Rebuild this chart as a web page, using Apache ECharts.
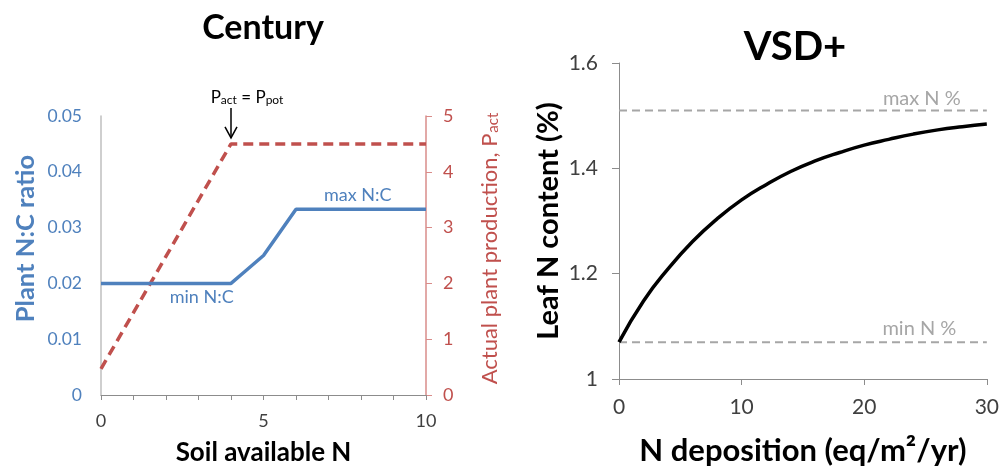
<!DOCTYPE html>
<html><head><meta charset="utf-8">
<script src="https://cdn.jsdelivr.net/npm/echarts@6/dist/echarts.min.js"></script>
<style>html,body{margin:0;padding:0;background:#fff}#c{width:1002px;height:471px}</style>
</head><body><div id="c"></div>
<script>
// ---- Century panel data ----
const soilN_nc = [0, 4, 4.4, 5, 6, 10];
const ncRatio = [0.02, 0.02, 0.022, 0.025, 0.0333, 0.0333];
const soilN_p = [0, 4, 10];
const pAct = [0.47, 4.5, 4.5];
const ncTicks = [0, 0.01, 0.02, 0.03, 0.04, 0.05];
const pTicks = [0, 1, 2, 3, 4, 5];
// ---- VSD+ panel data ----
const nDep = [0, 2, 4, 6, 8, 10, 12, 14, 16, 18, 20, 22, 24, 26, 28, 30];
const leafN = [1.07, 1.148, 1.209, 1.261, 1.304, 1.34, 1.369, 1.394, 1.414, 1.43, 1.444, 1.455, 1.465, 1.473, 1.479, 1.484];
const maxNpct = 1.51;
const minNpct = 1.07;
const nDepRange = [0, 30];

const FONT = 'Lato, "Open Sans", sans-serif';
const BLUE = '#4f81bd', RED = '#c0504d', GRAY = '#a6a6a6', TXT = '#404040';

const chart = echarts.init(document.getElementById('c'));
const option = {
  animation: false,
  textStyle: {fontFamily: FONT},
  title: [
    {text: 'Century', left: 258, top: 6, textAlign: 'center',
     textStyle: {fontFamily: FONT, fontSize: 34, fontWeight: 'bold', color: '#000'}},
    {text: 'VSD+', left: 790, top: 22, textAlign: 'center',
     textStyle: {fontFamily: FONT, fontSize: 40, fontWeight: 'bold', color: '#000'}}
  ],
  grid: [
    {left: 101, right: 576, top: 116, bottom: 73},
    {left: 619, right: 13, top: 63, bottom: 92}
  ],
  xAxis: [
    {type: 'value', gridIndex: 0, min: 0, max: 10, interval: 1,
     name: 'Soil available N', nameLocation: 'middle', nameGap: 45,
     nameTextStyle: {fontFamily: FONT, fontSize: 26, fontWeight: 'bold', color: '#000'},
     axisLine: {lineStyle: {color: '#8c8c8c', width: 1}},
     axisTick: {show: true, length: 5, lineStyle: {color: '#8c8c8c'}},
     axisLabel: {margin: 17, fontSize: 18, color: TXT, fontFamily: FONT,
       formatter: v => (v % 5 === 0 ? String(v) : '')},
     splitLine: {show: false}},
    {type: 'value', gridIndex: 1, min: nDepRange[0], max: nDepRange[1], interval: 10,
     name: 'N deposition (eq/m²/yr)', nameLocation: 'middle', nameGap: 56,
     nameTextStyle: {fontFamily: FONT, fontSize: 31, fontWeight: 'bold', color: '#000'},
     axisLine: {lineStyle: {color: '#8c8c8c', width: 1}},
     axisTick: {show: true, length: 6, lineStyle: {color: '#8c8c8c'}},
     axisLabel: {margin: 18, fontSize: 21, color: TXT, fontFamily: FONT},
     splitLine: {show: false}}
  ],
  yAxis: [
    {type: 'value', gridIndex: 0, min: 0, max: 0.05, interval: 0.01, position: 'left',
     name: 'Plant N:C ratio', nameLocation: 'middle', nameGap: 62, nameRotate: 90,
     nameTextStyle: {fontFamily: FONT, fontSize: 25.5, fontWeight: 'bold', color: BLUE, padding: [0, 0, 0, 34]},
     axisLine: {show: true, lineStyle: {color: '#bfbfbf', width: 1.5}},
     axisTick: {show: false},
     axisLabel: {margin: 19, fontSize: 17.5, color: BLUE, fontFamily: FONT,
       formatter: v => { const t = ncTicks.find(x => Math.abs(x - v) < 1e-9); return t === undefined ? '' : String(t); }},
     splitLine: {show: false}},
    {type: 'value', gridIndex: 0, min: 0, max: 5, interval: 1, position: 'right',
     name: '{a|Actual plant production, P}{s|act}', nameLocation: 'middle', nameGap: 47, nameRotate: 90,
     nameTextStyle: {fontFamily: FONT, color: RED, padding: [0, 0, 0, 14],
       rich: {a: {fontSize: 22, color: RED, fontFamily: FONT, lineHeight: 28, verticalAlign: 'bottom'},
              s: {fontSize: 15, color: RED, fontFamily: FONT, lineHeight: 28, verticalAlign: 'bottom', padding: [0,0,0,1]}}},
     axisLine: {show: true, lineStyle: {color: '#d98c8a', width: 1.5}},
     axisTick: {show: true, inside: false, length: 6, lineStyle: {color: '#d98c8a'}},
     axisLabel: {margin: 17, fontSize: 18, color: RED, fontFamily: FONT,
       formatter: v => String(pTicks.find(x => Math.abs(x - v) < 1e-9) ?? '')},
     splitLine: {show: false}},
    {type: 'value', gridIndex: 1, min: 1, max: 1.6, interval: 0.2,
     name: 'Leaf N content (%)', nameLocation: 'middle', nameGap: 56, nameRotate: 90,
     nameTextStyle: {fontFamily: FONT, fontSize: 29, fontWeight: 'bold', color: '#000'},
     axisLine: {show: true, lineStyle: {color: '#8c8c8c', width: 1}},
     axisTick: {show: true, length: 7, lineStyle: {color: '#8c8c8c'}},
     axisLabel: {margin: 21, fontSize: 21, color: TXT, fontFamily: FONT,
       formatter: v => String(Math.round(v * 10) / 10)},
     splitLine: {show: false}}
  ],
  series: [
    {type: 'line', name: 'Pact', xAxisIndex: 0, yAxisIndex: 1, symbol: 'none',
     data: soilN_p.map((x, i) => [x, pAct[i]]),
     lineStyle: {color: RED, width: 3.5, type: [10, 6]}, z: 2},
    {type: 'line', name: 'NC', xAxisIndex: 0, yAxisIndex: 0, symbol: 'none',
     data: soilN_nc.map((x, i) => [x, ncRatio[i]]),
     lineStyle: {color: BLUE, width: 3.5}, z: 3},
    {type: 'line', name: 'maxN', xAxisIndex: 1, yAxisIndex: 2, symbol: 'none',
     data: nDepRange.map(x => [x, maxNpct]),
     lineStyle: {color: GRAY, width: 2, type: [8, 5]}},
    {type: 'line', name: 'minN', xAxisIndex: 1, yAxisIndex: 2, symbol: 'none',
     data: nDepRange.map(x => [x, minNpct]),
     lineStyle: {color: GRAY, width: 2, type: [8, 5]}},
    {type: 'line', name: 'leafN', xAxisIndex: 1, yAxisIndex: 2, symbol: 'none', smooth: true,
     data: nDep.map((x, i) => [x, leafN[i]]),
     lineStyle: {color: '#000', width: 3.5}, z: 3}
  ]
};
chart.setOption(option);

// annotations positioned through the axes
const peak = chart.convertToPixel({xAxisIndex: 0, yAxisIndex: 1}, [soilN_p[1], pAct[1]]);
const minLab = chart.convertToPixel({xAxisIndex: 0, yAxisIndex: 0}, [3.1, ncRatio[0]]);
const maxLab = chart.convertToPixel({xAxisIndex: 0, yAxisIndex: 0}, [7.9, ncRatio[4]]);
const maxNLab = chart.convertToPixel({xAxisIndex: 1, yAxisIndex: 2}, [24.7, maxNpct]);
const minNLab = chart.convertToPixel({xAxisIndex: 1, yAxisIndex: 2}, [24.5, minNpct]);
const ax = peak[0], tipY = peak[1] - 6;
chart.setOption({graphic: [
  {type: 'line', shape: {x1: ax, y1: tipY - 30, x2: ax, y2: tipY}, style: {stroke: '#000', lineWidth: 1.5}},
  {type: 'polyline', shape: {points: [[ax - 6, tipY - 11], [ax, tipY], [ax + 6, tipY - 11]]}, style: {stroke: '#000', lineWidth: 1.5, fill: null}},
  {type: 'text', x: ax + 16, y: tipY - 32, style: {
    text: '{a|P}{s|act}{a| = P}{s|pot}', align: 'center', verticalAlign: 'bottom',
    rich: {a: {fontSize: 17, fill: '#000', fontFamily: FONT, lineHeight: 22, verticalAlign: 'bottom'},
           s: {fontSize: 12, fill: '#000', fontFamily: FONT, lineHeight: 18, verticalAlign: 'bottom'}}}},
  {type: 'text', x: minLab[0], y: minLab[1] + 5, style: {text: 'min N:C', fill: BLUE, fontSize: 18, fontFamily: FONT, align: 'center', verticalAlign: 'top'}},
  {type: 'text', x: maxLab[0], y: maxLab[1] - 5, style: {text: 'max N:C', fill: BLUE, fontSize: 18, fontFamily: FONT, align: 'center', verticalAlign: 'bottom'}},
  {type: 'text', x: maxNLab[0], y: maxNLab[1] - 2, style: {text: 'max N %', fill: GRAY, fontSize: 20, fontFamily: FONT, align: 'center', verticalAlign: 'bottom'}},
  {type: 'text', x: minNLab[0], y: minNLab[1] - 4, style: {text: 'min N %', fill: GRAY, fontSize: 20, fontFamily: FONT, align: 'center', verticalAlign: 'bottom'}}
]});
</script>
</body></html>
